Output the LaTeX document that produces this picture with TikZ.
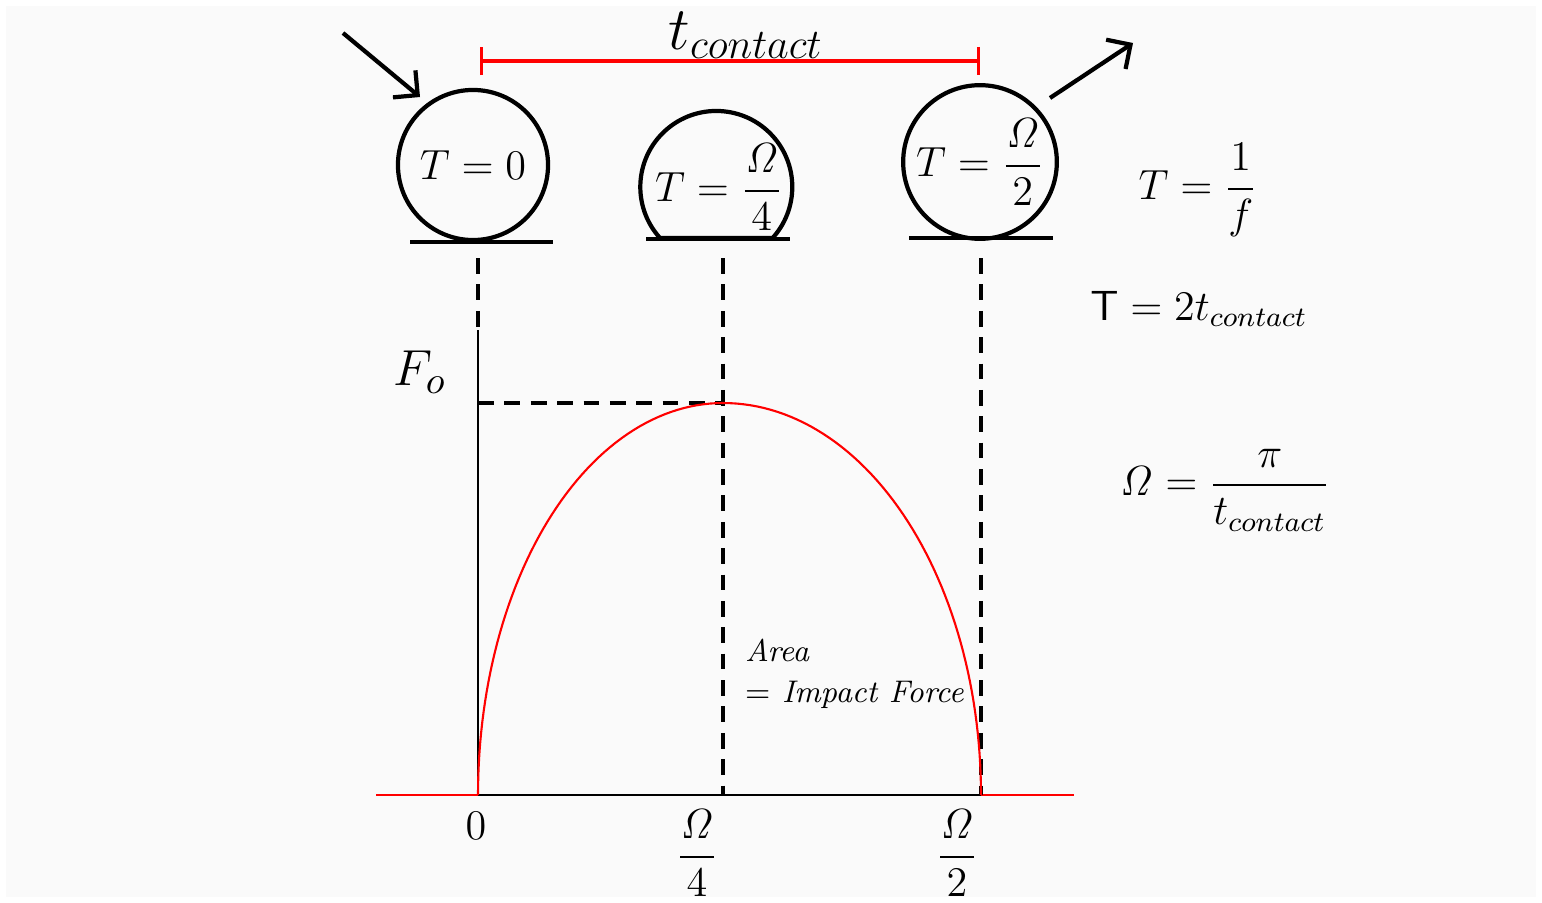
\documentclass[tikz,border=0pt]{standalone}
\usepackage{amsmath}
\usetikzlibrary{arrows.meta}

\begin{document}
\begin{tikzpicture}[
	x=0.01cm, y=-0.01cm,
	ball/.style={
		draw, circle, line width=1.2pt,
		minimum size=1.5cm, inner sep=0pt,
		font=\fontsize{12}{14}\selectfont
	},
	txt/.style={font=\fontsize{12}{14}\selectfont, inner sep=1pt},
	arr/.style={-{Straight Barb[length=5pt, width=10pt]}, line width=1.2pt},
	guide/.style={dash pattern=on 4.5pt off 3pt, line width=1pt},
	ground/.style={line width=0.9pt},
	curve/.style={red, line width=0.6pt}
]

% Frame
\fill[white] (0,0) rectangle (1542,903);
\fill[black!2] (6,6) rectangle (1536,897);
\useasboundingbox (0,0) rectangle (1542,903);

% Balls
% b0 centre (473,165), b1 centre (717,187), b2 centre (980,162), r = 76
\node[ball] (b0) at (473,165) {$T = 0$};
\node[txt]  (b1) at (719,187) {$T = \dfrac{\mathit{\Omega}}{4}$};
\node[ball] (b2) at (980,162) {$T = \dfrac{\mathit{\Omega}}{2}$};

% Squashed ball at half contact
\draw[line width=1.2pt] (660,238) arc[start angle=137.8, end angle=402.2, radius=76] -- cycle;

% Ground under each ball
\draw[ground] (410,242) -- (553,242);
\draw[ground] (646,239) -- (790,239);
\draw[ground] (909,238) -- (1053,238);

% Incoming and outgoing motion
\coordinate (inS)  at (343,33);
\coordinate (inT)  at (420,97);
\coordinate (outS) at (1050,98);
\coordinate (outT) at (1133,43);
\draw[arr] (inS) -- (inT);
\draw[arr] (outS) -- (outT);

% Contact time bar
\coordinate (cs) at (480,61);
\coordinate (ce) at (980,61);
\draw[red, line width=0.9pt, {Bar[width=8pt]}-{Bar[width=8pt]}] (cs) -- (ce);
\node[font=\fontsize{18}{20}\selectfont, anchor=base] (tc) at (746,49) {$t_{contact}$};

% Axes
\coordinate (o)    at (478,795);
\coordinate (q)    at (723,795);
\coordinate (h)    at (981,795);
\coordinate (pk)   at (723,403);
\coordinate (ytop) at (478,330);
\coordinate (xl)   at (376,795);
\coordinate (xr)   at (1074,795);
\draw[red, line width=0.8pt] (xl) -- (xr);
\draw[line width=0.8pt] (o) -- (h);
\draw[line width=0.8pt] (ytop) -- (o);

% Guide lines down from the balls
\coordinate (g0) at (478,258);
\coordinate (g1) at (723,258);
\coordinate (g2) at (981,258);
\draw[guide] (g0) -- (ytop);
\draw[guide] (g1) -- (q);
\draw[guide] (g2) -- (h);
\draw[guide] (o |- pk) -- (pk);

% Force pulse
\draw[curve] plot[domain=0:90, samples=60] ({723-245*cos(\x)}, {795-392*sin(\x)});
\draw[curve] plot[domain=0:90, samples=60] ({723+258*cos(\x)}, {795-392*sin(\x)});

% Labels
\node[font=\fontsize{15}{17}\selectfont] (fo) at (420,372) {$F_o$};
\node[txt] (t0) at (476,826) {$0$};
\node[txt] (tq) at (697,853) {$\dfrac{\mathit{\Omega}}{4}$};
\node[txt] (th) at (957,853) {$\dfrac{\mathit{\Omega}}{2}$};
\node[font=\fontsize{8.9}{11.5}\selectfont\itshape, align=left, anchor=west, inner sep=1pt] (area) at (741,674) {Area\\$=$ Impact Force};

% Relations
\node[txt] (ef) at (1198,190) {$T = \dfrac{1}{f}$};
\node[txt, anchor=base] (et) at (1199,320) {$\mathsf{T} = 2t_{contact}$};
\node[txt] (eo) at (1225,490) {$\mathit{\Omega} = \dfrac{\pi}{t_{contact}}$};

\end{tikzpicture}
\end{document}
